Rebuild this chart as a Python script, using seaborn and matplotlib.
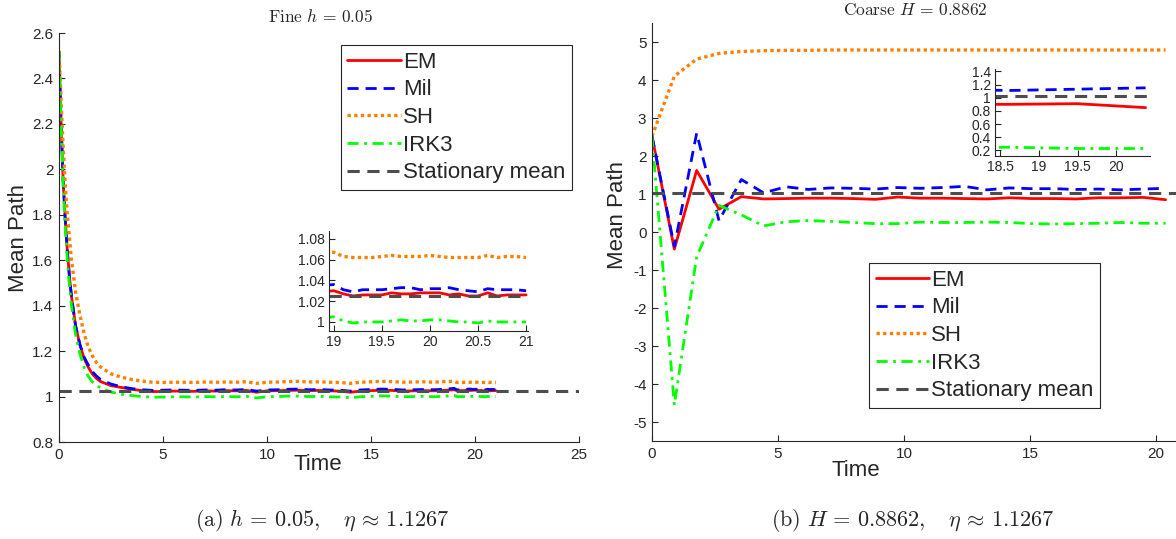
import numpy as np
import matplotlib
matplotlib.use("Agg")
import matplotlib.pyplot as plt
import seaborn as sns

# ---------------- data ----------------
series_names = ["EM", "Mil", "SH", "IRK3"]
stationary_label = "Stationary mean"
stationary_mean = 1.025

# fine panel (h = 0.05): sampled read-off times
t_fine = np.round(np.concatenate([
    np.arange(0.0, 0.55, 0.1),
    np.array([0.6, 0.8, 1.0, 1.2, 1.4, 1.6, 1.8]),
    np.arange(2.0, 18.51, 0.5),
    np.arange(19.0, 21.01, 0.1),
]), 2)

em_fine = [2.52, 2.20, 1.95, 1.78, 1.64, 1.53,
           1.44, 1.31, 1.23, 1.17, 1.13, 1.10, 1.08,
           1.066, 1.048, 1.040, 1.032, 1.026, 1.022, 1.022, 1.024, 1.024, 1.023, 1.025, 1.024,
           1.026, 1.025, 1.027, 1.019, 1.025, 1.026, 1.027, 1.028, 1.026, 1.027, 1.025, 1.024,
           1.019, 1.024, 1.026, 1.028, 1.027, 1.024, 1.025, 1.026, 1.025, 1.027,
           1.030, 1.027, 1.025, 1.026, 1.026, 1.026, 1.028, 1.027, 1.027, 1.028, 1.028,
           1.028, 1.026, 1.027, 1.025, 1.025, 1.028, 1.025, 1.026, 1.026, 1.026]
mil_fine = [2.52, 2.20, 1.95, 1.78, 1.64, 1.53,
            1.44, 1.31, 1.23, 1.175, 1.14, 1.11, 1.09,
            1.075, 1.055, 1.043, 1.035, 1.030, 1.027, 1.028, 1.029, 1.028, 1.027, 1.029, 1.028,
            1.030, 1.029, 1.031, 1.024, 1.029, 1.030, 1.032, 1.033, 1.030, 1.031, 1.029, 1.028,
            1.024, 1.029, 1.031, 1.033, 1.032, 1.029, 1.030, 1.031, 1.030, 1.032,
            1.036, 1.031, 1.029, 1.031, 1.031, 1.031, 1.032, 1.033, 1.033, 1.031, 1.032,
            1.032, 1.033, 1.031, 1.030, 1.029, 1.032, 1.031, 1.031, 1.031, 1.030]
sh_fine = [2.52, 2.30, 2.10, 1.93, 1.80, 1.70,
           1.60, 1.46, 1.36, 1.28, 1.22, 1.18, 1.15,
           1.13, 1.10, 1.085, 1.075, 1.068, 1.063, 1.062, 1.063, 1.063, 1.062, 1.064, 1.063,
           1.064, 1.063, 1.065, 1.058, 1.063, 1.064, 1.066, 1.067, 1.064, 1.065, 1.063, 1.062,
           1.058, 1.063, 1.065, 1.067, 1.066, 1.063, 1.064, 1.065, 1.063, 1.066,
           1.067, 1.063, 1.062, 1.062, 1.062, 1.063, 1.064, 1.063, 1.063, 1.063, 1.064,
           1.063, 1.062, 1.062, 1.062, 1.062, 1.064, 1.062, 1.063, 1.063, 1.062]
irk3_fine = [2.52, 2.18, 1.92, 1.74, 1.60, 1.49,
             1.40, 1.27, 1.19, 1.13, 1.09, 1.065, 1.05,
             1.038, 1.020, 1.010, 1.004, 1.000, 0.997, 0.998, 0.999, 0.999, 0.998, 1.000, 0.999,
             1.000, 0.999, 1.001, 0.994, 0.999, 1.000, 1.002, 1.002, 1.000, 1.001, 0.999, 0.998,
             0.995, 0.999, 1.001, 1.003, 1.002, 0.999, 1.000, 1.001, 0.999, 1.001,
             1.005, 1.001, 0.999, 1.000, 1.000, 1.000, 1.001, 1.002, 1.001, 1.001, 1.002,
             1.002, 1.001, 1.000, 1.000, 0.999, 1.001, 1.000, 1.000, 1.000, 1.000]

# coarse panel (H = 0.8862)
H = 0.8862
t_coarse = np.arange(24) * H
em_coarse = [2.52, -0.45, 1.62, 0.60, 0.93, 0.87, 0.88, 0.89, 0.89, 0.88, 0.86, 0.92,
             0.89, 0.89, 0.88, 0.87, 0.90, 0.88, 0.88, 0.87, 0.90, 0.90, 0.91, 0.85]
mil_coarse = [2.52, -0.38, 2.60, 0.30, 1.38, 1.03, 1.19, 1.12, 1.16, 1.15, 1.13, 1.17,
              1.15, 1.17, 1.20, 1.11, 1.16, 1.14, 1.14, 1.12, 1.13, 1.11, 1.13, 1.15]
sh_coarse = [2.52, 4.10, 4.55, 4.70, 4.75, 4.77, 4.78, 4.78, 4.79, 4.79, 4.79, 4.79,
             4.79, 4.79, 4.79, 4.79, 4.79, 4.79, 4.79, 4.79, 4.79, 4.79, 4.79, 4.79]
irk3_coarse = [2.52, -4.55, -0.65, 0.70, 0.45, 0.16, 0.27, 0.30, 0.28, 0.25, 0.22, 0.22,
               0.26, 0.25, 0.25, 0.26, 0.25, 0.22, 0.21, 0.22, 0.23, 0.25, 0.23, 0.23]

fine_title = r"$\mathrm{Fine}\ h \,=\, 0.05$"
coarse_title = r"$\mathrm{Coarse}\ H \,=\, 0.8862$"
caption_a = r"$\mathrm{(a)}\ h \,=\, 0.05, \quad \eta \,\approx\, 1.1267$"
caption_b = r"$\mathrm{(b)}\ H \,=\, 0.8862, \quad \eta \,\approx\, 1.1267$"

# ---------------- style ----------------
sns.set_theme(style="white")
plt.rcParams["font.family"] = ["Liberation Sans", "DejaVu Sans"]
plt.rcParams["mathtext.fontset"] = "cm"
plt.rcParams["axes.unicode_minus"] = False

colors = {"EM": (1, 0, 0), "Mil": (0, 0, 1), "SH": (1, 0.5, 0.0), "IRK3": (0, 1, 0)}
styles = {"EM": "-", "Mil": (0, (4, 2.5)), "SH": (0, (1, 1)), "IRK3": (0, (4, 2, 1, 2))}
lws = {"EM": 2.0, "Mil": 2.0, "SH": 2.4, "IRK3": 2.0}
stat_color = (0.3, 0.3, 0.3)
axc = "#262626"

W, Hpx = 1176, 539
fig = plt.figure(figsize=(W / 100, Hpx / 100), dpi=100)


def rect(l, r, t, b):
    return [l / W, 1 - b / Hpx, (r - l) / W, (b - t) / Hpx]


def style_axes(ax, fs):
    for s in ["top", "right"]:
        ax.spines[s].set_visible(False)
    for s in ["left", "bottom"]:
        ax.spines[s].set_color(axc)
        ax.spines[s].set_linewidth(0.8)
    ax.tick_params(direction="in", length=4, width=0.8, colors=axc,
                   labelsize=fs, labelcolor=axc, left=True, bottom=True, pad=4)
    ax.xaxis.set_major_formatter(matplotlib.ticker.FormatStrFormatter("%g"))
    ax.yaxis.set_major_formatter(matplotlib.ticker.FormatStrFormatter("%g"))
    ax.grid(False)


def draw(ax, t, vals, xlim):
    for name, v in zip(series_names, vals):
        sns.lineplot(x=t, y=v, ax=ax, color=colors[name], linestyle=styles[name],
                     linewidth=lws[name], label=name, errorbar=None, sort=False)
    ax.plot(list(xlim), [stationary_mean, stationary_mean], color=stat_color,
            linestyle=(0, (4, 2.5)), linewidth=2.2, label=stationary_label)
    ax.set_xlim(*xlim)


fine_vals = [em_fine, mil_fine, sh_fine, irk3_fine]
coarse_vals = [em_coarse, mil_coarse, sh_coarse, irk3_coarse]

leg_kw = dict(bbox_transform=fig.transFigure, fontsize=16, frameon=True,
              fancybox=False, framealpha=1, edgecolor=axc, handlelength=2.4,
              handletextpad=0.1, labelspacing=0.3, borderpad=0.3, borderaxespad=0)

# left main
ax1 = fig.add_axes(rect(59, 579, 33, 442))
draw(ax1, t_fine, fine_vals, (0, 25))
ax1.set_ylim(0.8, 2.6)
ax1.set_xticks([0, 5, 10, 15, 20, 25])
ax1.set_yticks(np.arange(0.8, 2.61, 0.2))
style_axes(ax1, 11)
ax1.set_xlabel("")
ax1.set_ylabel("")
leg1 = ax1.legend(loc="upper right", bbox_to_anchor=(572 / W, 1 - 45 / Hpx), **leg_kw)
leg1.get_frame().set_linewidth(0.8)

# right main
ax2 = fig.add_axes(rect(652, 652 + 21 * 25.2, 23, 441))
draw(ax2, t_coarse, coarse_vals, (0, 21))
ax2.set_ylim(-5.5, 5.5)
ax2.set_xticks([0, 5, 10, 15, 20])
ax2.set_yticks(np.arange(-5, 6, 1))
style_axes(ax2, 11)
ax2.set_xlabel("")
ax2.set_ylabel("")
leg2 = ax2.legend(loc="upper left", bbox_to_anchor=(869 / W, 1 - 263 / Hpx), **leg_kw)
leg2.get_frame().set_linewidth(0.8)

# left inset
ins1 = fig.add_axes(rect(329, 528, 231, 331))
draw(ins1, t_fine, fine_vals, (18.95, 21.02))
ins1.set_ylim(0.9913, 1.0875)
ins1.set_xticks([19, 19.5, 20, 20.5, 21])
ins1.set_yticks([1.0, 1.02, 1.04, 1.06, 1.08])
style_axes(ins1, 10)
ins1.tick_params(pad=3)
ins1.legend_.remove()
ins1.set_xlabel("")
ins1.set_ylabel("")

# right inset
ins2 = fig.add_axes(rect(995, 1150, 69, 155.5))
draw(ins2, t_coarse, coarse_vals, (18.43, 20.44))
ins2.set_ylim(0.124, 1.436)
ins2.set_xticks([18.5, 19, 19.5, 20])
ins2.set_yticks([0.2, 0.4, 0.6, 0.8, 1.0, 1.2, 1.4])
style_axes(ins2, 10)
ins2.tick_params(pad=3)
ins2.legend_.remove()
ins2.set_xlabel("")
ins2.set_ylabel("")

# labels / titles / captions
fig.text(19 / W, 1 - 238 / Hpx, "Mean Path", rotation=90, ha="center", va="center",
         fontsize=16, color=axc)
fig.text(617 / W, 1 - 215 / Hpx, "Mean Path", rotation=90, ha="center", va="center",
         fontsize=16, color=axc)
fig.text(318 / W, 1 - 465 / Hpx, "Time", ha="center", va="center", fontsize=16, color=axc)
fig.text(856 / W, 1 - 471 / Hpx, "Time", ha="center", va="center", fontsize=16, color=axc)
fig.text(321 / W, 1 - 17 / Hpx, fine_title, ha="center", va="center", fontsize=12.5)
fig.text(915 / W, 1 - 10 / Hpx, coarse_title, ha="center", va="center", fontsize=12.5)
fig.text(322 / W, 1 - 521 / Hpx, caption_a, ha="center", va="center", fontsize=16)
fig.text(913 / W, 1 - 521 / Hpx, caption_b, ha="center", va="center", fontsize=16)

fig.savefig("out.png", dpi=100)
